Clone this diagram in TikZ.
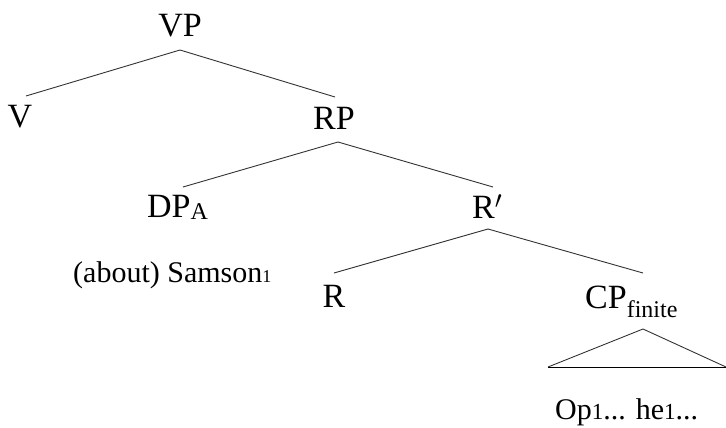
\documentclass[tikz,border=0pt]{standalone}
\usepackage{fontspec}
\setmainfont{Liberation Serif}
\begin{document}
\begin{tikzpicture}[x=1pt,y=-1pt,
  lab/.style={anchor=base, inner sep=0pt, font=\fontsize{34}{40}\selectfont},
  leaf/.style={anchor=base west, inner sep=0pt, font=\fontsize{30}{36}\selectfont},
  edge/.style={draw=black!80, line width=0.9pt}]
\useasboundingbox (0,0) rectangle (726,428);
\node[lab] (VP) at (180,37) {VP};
\node[lab] (V) at (20,127) {V};
\node[lab] (RP) at (334,129) {RP};
\node[lab, anchor=base west] (DP) at (147,217) {DP\raisebox{-2pt}{\fontsize{24}{28}\selectfont A}};
\node[lab, anchor=base west] (Rbar) at (472,218) {R$^{\prime}$};
\node[lab] (R) at (334,307) {R};
\node[lab, anchor=base west] (CP) at (585,308) {CP\raisebox{-9pt}{\fontsize{24}{28}\selectfont finite}};
\node[leaf] (Sam) at (73,282) {(about) Samson{\fontsize{18}{20}\selectfont 1}};
\node[leaf] (Op) at (555,419) {Op{\fontsize{23}{26}\selectfont 1}... he{\fontsize{23}{26}\selectfont 1}...};
% branches
\draw[edge] ([yshift=-13pt]VP.base) -- ([xshift=6pt,yshift=31pt]V.base);
\draw[edge] ([yshift=-13pt]VP.base) -- ([xshift=1pt,yshift=32pt]RP.base);
\draw[edge] ([xshift=4pt,yshift=-13pt]RP.base) -- ([xshift=36pt,yshift=30pt]DP.base west);
\draw[edge] ([xshift=4pt,yshift=-13pt]RP.base) -- ([xshift=21pt,yshift=31pt]Rbar.base west);
\draw[edge] ([xshift=16pt,yshift=-11pt]Rbar.base west) -- ([yshift=34pt]R.base);
\draw[edge] ([xshift=16pt,yshift=-11pt]Rbar.base west) -- ([xshift=58pt,yshift=35pt]CP.base west);
% triangle
\coordinate (triTop) at ([xshift=58pt,yshift=-21pt]CP.base west);
\coordinate (triL) at ([xshift=-7pt,yshift=52pt]Op.base west);
\coordinate (triR) at ([xshift=171pt,yshift=52pt]Op.base west);
\draw[edge] (triL) -- (triTop) -- (triR);
\draw[black, line width=1pt] (triL) -- (triR);
\end{tikzpicture}
\end{document}
